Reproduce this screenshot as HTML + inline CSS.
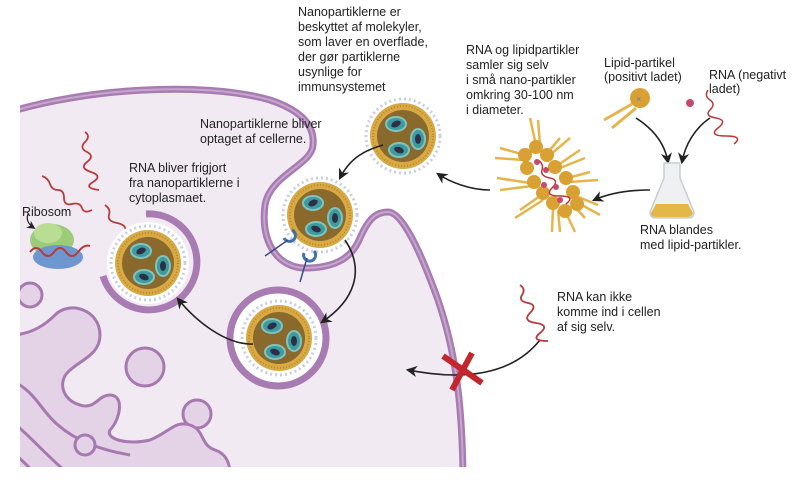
<!DOCTYPE html>
<html><head><meta charset="utf-8"><style>
html,body{margin:0;padding:0;background:#fff}
svg{display:block}
text{font-family:"Liberation Sans Narrow","Liberation Sans",sans-serif;font-size:12.5px;fill:#222}
</style></head><body>
<svg width="800" height="491" viewBox="0 0 800 491" xmlns="http://www.w3.org/2000/svg">
<defs>
<g id="np">
<circle r="37" fill="none" stroke="#c9cde0" stroke-width="3" stroke-dasharray="2 3"/>
<circle r="33" fill="#d9a944"/>
<circle r="30" fill="none" stroke="#b88a2e" stroke-width="2" stroke-dasharray="1 2"/>
<circle r="26" fill="#8a6a2c"/>
<g fill="#3f9a9c" stroke="#7fc4c0" stroke-width="2">
<ellipse cx="-7" cy="-12" rx="10" ry="7"/>
<ellipse cx="15" cy="3" rx="7" ry="10"/>
<ellipse cx="-4" cy="14" rx="10" ry="7"/>
</g>
<g fill="#2b2f4a">
<ellipse cx="-7" cy="-12" rx="5" ry="3" transform="rotate(-25 -7 -12)"/>
<ellipse cx="15" cy="3" rx="3" ry="5"/>
<ellipse cx="-4" cy="14" rx="5" ry="3" transform="rotate(20 -4 14)"/>
</g>
</g>
<marker id="ah" viewBox="0 0 10 10" refX="8" refY="5" markerWidth="7" markerHeight="7" orient="auto"><path d="M0,0 L10,5 L0,10 L3,5 z" fill="#222"/></marker>
<clipPath id="cc"><rect x="20" y="0" width="460" height="467"/></clipPath>
</defs>

<!-- cell -->
<g clip-path="url(#cc)">
<path d="M20,110 C80,90 200,80 270,100 C300,110 315,125 313,145 C312,165 270,175 265,205 C260,245 280,268 305,268 C335,268 352,258 360,238 C368,220 375,212 388,212 C402,212 420,250 438,300 C455,350 462,400 463,470 L20,470 Z" fill="#f2eaf3"/>
<path d="M10,112 C80,90 200,80 270,100 C300,110 315,125 313,145 C312,165 270,175 265,205 C260,245 280,268 305,268 C335,268 352,258 360,238 C368,220 375,212 388,212 C402,212 420,250 438,300 C455,350 462,400 463,475" fill="none" stroke="#a87cb2" stroke-width="7"/>
<path d="M10,112 C80,90 200,80 270,100 C300,110 315,125 313,145 C312,165 270,175 265,205 C260,245 280,268 305,268 C335,268 352,258 360,238 C368,220 375,212 388,212 C402,212 420,250 438,300 C455,350 462,400 463,475" fill="none" stroke="#c6a7cc" stroke-width="2"/>

<!-- organelles -->
<g fill="#e4d2e7" stroke="#a679af" stroke-width="3">
<circle cx="30" cy="295" r="12"/>
<circle cx="145" cy="367" r="19"/>
<circle cx="197" cy="414" r="14"/>
<path d="M10,335 C30,335 45,325 55,315 C70,300 100,310 100,335 C100,355 80,360 68,372 C58,382 62,400 80,405 C95,410 98,395 110,395 C125,395 120,420 110,430 C105,440 130,445 150,440 C170,432 175,420 190,425 C205,430 200,445 215,450 C230,455 230,470 230,475 L10,475 Z"/>
<path d="M10,380 C35,390 40,410 58,425 C75,440 100,450 130,455 M10,420 C30,435 45,455 70,475 M10,450 C22,460 30,468 36,475" fill="none"/>
<circle cx="85" cy="445" r="10"/>
</g>
</g>

<!-- ribosome -->
<ellipse cx="52" cy="240" rx="22" ry="16" fill="#9ccb7a"/>
<ellipse cx="48" cy="233" rx="14" ry="10" fill="#b9dd95"/>
<ellipse cx="58" cy="257" rx="25" ry="12" fill="#6f97cf"/>
<path d="M30,252 q6,-8 12,0 t12,0 t12,0 t12,0 t12,-6" fill="none" stroke="#b83a3a" stroke-width="2"/>
<path d="M28,214 q-3,8 6,14" fill="none" stroke="#222" stroke-width="1.2" marker-end="url(#ah)"/>

<!-- RNA strands in cytoplasm -->
<g fill="none" stroke="#b83a3a" stroke-width="1.8">
<path d="M85,132 q6,4 0,10 t2,10 t0,10 t4,10 t2,10 t6,8"/>
<path d="M42,176 q6,2 8,8 t8,6 t6,8 t8,6 t10,4 t10,2"/>
<path d="M105,205 q6,4 4,10 t8,8 t8,8 t6,10 t10,6"/>
</g>

<!-- vesicle 3 (open) -->
<path d="M103,276 A48,48 0 1 0 146,214" fill="none" stroke="#a87cb2" stroke-width="7"/>
<circle cx="148" cy="263" r="41" fill="#fff"/>
<use href="#np" x="148" y="263"/>
<!-- vesicle 4 -->
<circle cx="278" cy="338" r="48" fill="#fff" stroke="#a87cb2" stroke-width="7"/>
<use href="#np" x="279" y="338"/>
<!-- NP2 in invagination -->
<use href="#np" x="320" y="215"/>
<g fill="none" stroke="#3f73a8" stroke-width="3"><path d="M284,238 a6,6 0 1 0 8,-8"/><path d="M304,253 a6,6 0 1 0 10,-2"/></g>
<path d="M265,256 L288,240 M300,282 L307,258" stroke="#3a4a8a" stroke-width="1.5"/>
<!-- NP1 -->
<use href="#np" x="403" y="136"/>

<!-- arrows -->
<g fill="none" stroke="#222" stroke-width="1.6" marker-end="url(#ah)">
<path d="M383,145 C365,150 350,158 340,178"/>
<path d="M490,190 C470,190 450,182 438,174"/>
<path d="M345,240 C365,270 355,300 322,322"/>
<path d="M253,344 C225,345 195,320 178,299"/>
<path d="M650,190 C630,190 610,193 594,200"/>
<path d="M636,118 C655,130 665,145 668,162"/>
<path d="M710,118 C695,128 685,145 682,162"/>
<path d="M540,340 C520,365 490,375 455,375 C435,375 420,372 408,370"/>
</g>
<!-- red X -->
<g stroke="#c1272d" stroke-width="6"><path d="M443,356 L482,383 M472,353 L452,390"/></g>
<path d="M520,285 q6,4 2,10 t6,8 t2,10 t6,10 t4,10 t8,8" fill="none" stroke="#b83a3a" stroke-width="1.8"/>

<!-- lipid cluster -->
<g stroke="#e6b54a" stroke-width="2.5" fill="none">
<path d="M530,118 L536,145 M538,120 L540,145 M500,148 L525,155 M495,158 L524,160 M497,178 L530,183 M500,190 L532,186 M520,210 L540,196 M515,218 L543,200 M552,232 L553,208 M560,232 L558,210 M575,232 L567,215 M585,218 L576,208 M600,215 L580,204 M598,205 L576,196 M590,172 L568,178 M598,180 L570,182 M580,150 L558,165 M585,158 L560,168 M560,138 L548,152 M570,138 L550,155"/>
</g>
<g fill="#d9a033">
<circle cx="536" cy="147" r="7"/><circle cx="525" cy="155" r="7"/><circle cx="547" cy="155" r="7"/><circle cx="527" cy="168" r="7"/><circle cx="555" cy="167" r="7"/><circle cx="534" cy="182" r="7"/><circle cx="566" cy="178" r="7"/><circle cx="543" cy="193" r="7"/><circle cx="573" cy="192" r="7"/><circle cx="553" cy="203" r="7"/><circle cx="577" cy="204" r="7"/><circle cx="565" cy="211" r="7"/>
</g>
<path d="M538,160 q6,4 4,10 t8,8 t2,10 t8,8 t6,8" fill="none" stroke="#b83a3a" stroke-width="1.5"/>
<g fill="#c84a6a"><circle cx="537" cy="162" r="3"/><circle cx="546" cy="170" r="3"/><circle cx="544" cy="185" r="3"/><circle cx="556" cy="187" r="3"/><circle cx="560" cy="200" r="3"/></g>

<!-- lipid particle -->
<path d="M632,104 L604,120 M636,108 L612,128" stroke="#e6b54a" stroke-width="3"/>
<circle cx="640" cy="98" r="10" fill="#d9a033"/>
<text x="636" y="102" style="font-size:9px;fill:#6a7ab0">×</text>
<circle cx="690" cy="103" r="4" fill="#c84a6a"/>
<path d="M708,90 q-4,6 2,10 t0,10 t6,8 t2,10 t8,8 t8,8" fill="none" stroke="#b83a3a" stroke-width="1.5"/>

<!-- flask -->
<path d="M664,163 L680,163 L680,178 L694,212 Q694,218 688,218 L656,218 Q650,218 650,212 L664,178 Z" fill="#eef0f2" stroke="#c7cdd3" stroke-width="1.5"/>
<path d="M656,204 L688,204 L693,213 Q692,217 688,217 L656,217 Q651,217 651,213 Z" fill="#e4b848"/>

<!-- texts -->
<text x="298" y="16">Nanopartiklerne er</text>
<text x="298" y="31">beskyttet af molekyler,</text>
<text x="298" y="46">som laver en overflade,</text>
<text x="298" y="61">der gør partiklerne</text>
<text x="298" y="76">usynlige for</text>
<text x="298" y="91">immunsystemet</text>
<text x="466" y="54">RNA og lipidpartikler</text>
<text x="466" y="69">samler sig selv</text>
<text x="466" y="84">i små nano-partikler</text>
<text x="466" y="99">omkring 30-100 nm</text>
<text x="466" y="114">i diameter.</text>
<text x="604" y="67">Lipid-partikel</text>
<text x="604" y="81">(positivt ladet)</text>
<text x="709" y="79">RNA (negativt</text>
<text x="709" y="93">ladet)</text>
<text x="200" y="128">Nanopartiklerne bliver</text>
<text x="200" y="143">optaget af cellerne.</text>
<text x="129" y="172">RNA bliver frigjort</text>
<text x="129" y="187">fra nanopartiklerne i</text>
<text x="129" y="202">cytoplasmaet.</text>
<text x="22" y="216">Ribosom</text>
<text x="640" y="234">RNA blandes</text>
<text x="640" y="249">med lipid-partikler.</text>
<text x="557" y="301">RNA kan ikke</text>
<text x="557" y="316">komme ind i cellen</text>
<text x="557" y="331">af sig selv.</text>
</svg>
</body></html>
